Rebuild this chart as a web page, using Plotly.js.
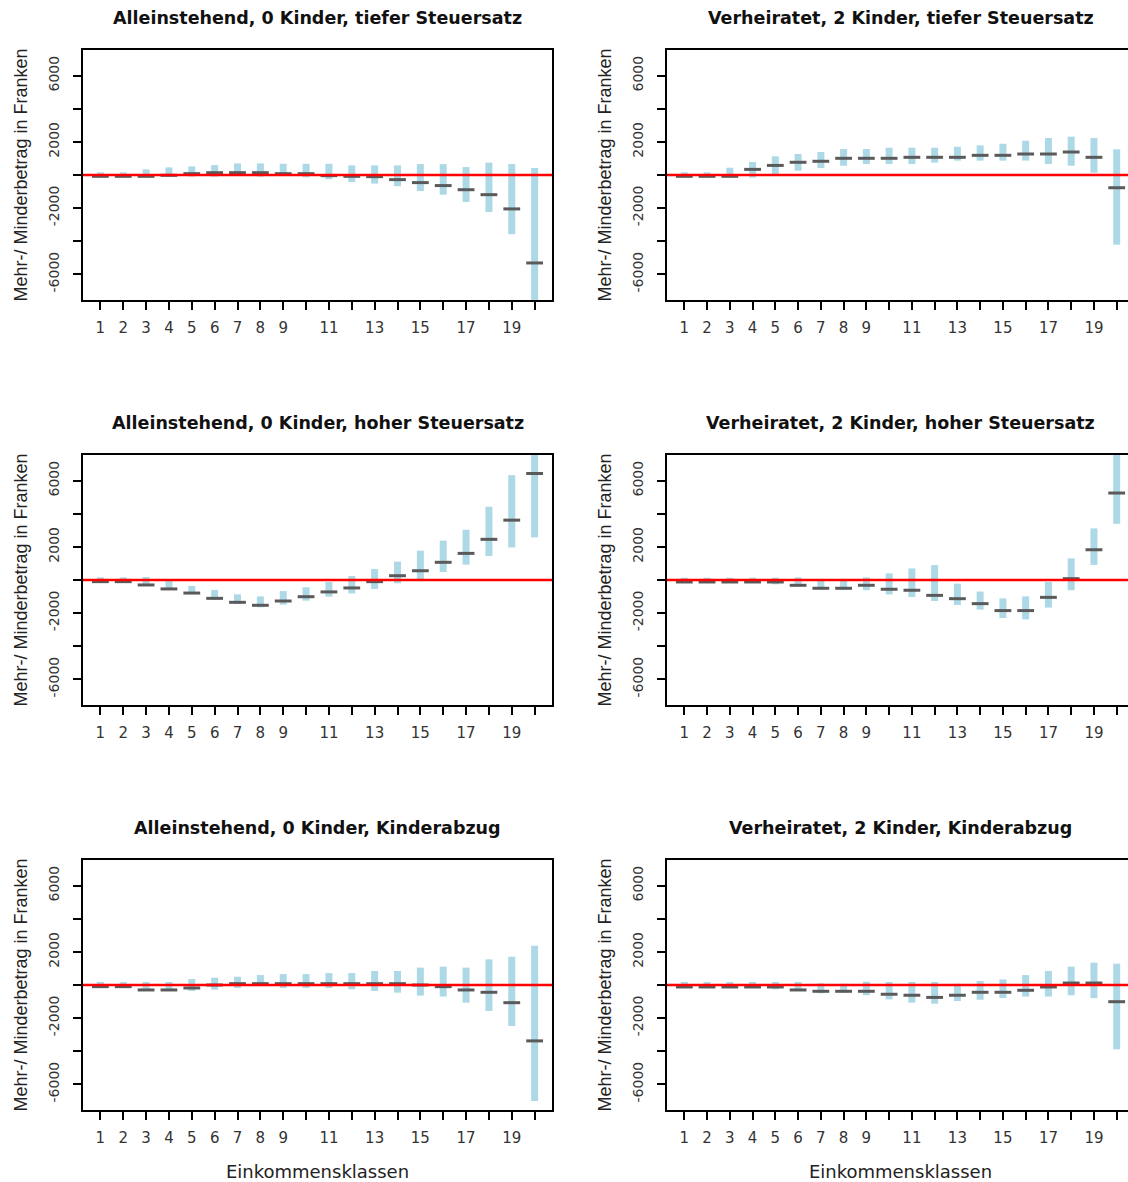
<!DOCTYPE html>
<html>
<head>
<meta charset="utf-8">
<script src="https://cdn.plot.ly/plotly-3.0.1.min.js"></script>
<style>
html,body{margin:0;padding:0;overflow:hidden;background:#fff;}
#chart{width:1136px;height:1182px;}
</style>
</head>
<body>
<div id="chart"></div>
<script>
const classes = [1,2,3,4,5,6,7,8,9,10,11,12,13,14,15,16,17,18,19,20];
const xTickText = ['1','2','3','4','5','6','7','8','9','','11','','13','','15','','17','','19',''];
const yTickVals = [-6000,-4000,-2000,0,2000,4000,6000];
const yTickText = ['-6000','','-2000','','2000','','6000'];

const panelTitles = [
  'Alleinstehend, 0 Kinder, tiefer Steuersatz',
  'Verheiratet, 2 Kinder, tiefer Steuersatz',
  'Alleinstehend, 0 Kinder, hoher Steuersatz',
  'Verheiratet, 2 Kinder, hoher Steuersatz',
  'Alleinstehend, 0 Kinder, Kinderabzug',
  'Verheiratet, 2 Kinder, Kinderabzug'
];
const yTitle = 'Mehr-/ Minderbetrag in Franken';
const xTitle = 'Einkommensklassen';

// Panel 1: Alleinstehend, tiefer Steuersatz
const p1Mid = [-80,-80,-80,-20,80,140,140,140,80,80,-40,-80,-100,-280,-460,-640,-890,-1190,-2050,-5320];
const p1Hi  = [160,160,340,460,520,600,700,700,680,680,680,580,580,580,660,660,480,750,660,420];
const p1Lo  = [-100,-100,-120,-100,-100,-100,-20,-100,-60,-140,-260,-420,-520,-680,-970,-1190,-1630,-2240,-3580,-8000];
// Panel 2: Verheiratet, tiefer Steuersatz
const p2Mid = [-80,-80,-80,340,580,770,830,1010,1010,1010,1070,1070,1070,1190,1190,1270,1270,1390,1070,-770];
const p2Hi  = [160,160,440,790,1130,1270,1390,1570,1570,1650,1650,1650,1710,1790,1890,2070,2240,2320,2240,1550];
const p2Lo  = [-100,-100,-120,-160,0,260,420,560,660,660,660,750,870,870,870,870,660,560,140,-4210];
// Panel 3: Alleinstehend, hoher Steuersatz
const p3Mid = [-100,-100,-300,-540,-790,-1110,-1350,-1530,-1270,-1010,-720,-480,-100,260,560,1070,1610,2460,3620,6440];
const p3Hi  = [160,160,180,-60,-360,-600,-870,-990,-670,-440,-120,240,660,1110,1770,2380,3040,4430,6340,8000];
const p3Lo  = [-120,-120,-320,-580,-850,-1190,-1450,-1650,-1490,-1250,-1010,-810,-540,-200,40,480,930,1450,1970,2580];
// Panel 4: Verheiratet, hoher Steuersatz
const p4Mid = [-120,-120,-120,-120,-120,-320,-500,-500,-320,-560,-620,-930,-1130,-1430,-1850,-1850,-1050,80,1830,5260];
const p4Hi  = [140,140,140,140,140,160,-20,-20,160,400,700,900,-220,-700,-1110,-990,-120,1310,3120,8000];
const p4Lo  = [-140,-140,-140,-140,-260,-400,-580,-600,-620,-870,-1030,-1270,-1510,-1790,-2300,-2380,-1670,-620,910,3400];
// Panel 5: Alleinstehend, Kinderabzug
const p5Mid = [-100,-100,-300,-300,-180,0,80,80,80,80,80,80,80,80,0,-100,-300,-440,-1070,-3380];
const p5Hi  = [180,180,180,180,360,440,500,600,660,660,720,720,850,850,1050,1110,1050,1550,1710,2380];
const p5Lo  = [-120,-120,-360,-360,-360,-280,-180,-60,-180,-180,-180,-260,-360,-460,-640,-700,-1070,-1570,-2480,-7010];
// Panel 6: Verheiratet, Kinderabzug
const p6Mid = [-120,-120,-120,-120,-120,-300,-380,-380,-380,-560,-620,-750,-620,-440,-440,-320,-120,120,120,-1010];
const p6Hi  = [180,180,180,180,180,180,100,80,200,180,180,180,80,240,340,600,850,1110,1350,1290];
const p6Lo  = [-140,-140,-140,-140,-260,-360,-500,-460,-620,-870,-1070,-1130,-970,-890,-790,-700,-700,-620,-790,-3890];

const panels = [
  {mid:p1Mid, hi:p1Hi, lo:p1Lo},
  {mid:p2Mid, hi:p2Hi, lo:p2Lo},
  {mid:p3Mid, hi:p3Hi, lo:p3Lo},
  {mid:p4Mid, hi:p4Hi, lo:p4Lo},
  {mid:p5Mid, hi:p5Hi, lo:p5Lo},
  {mid:p6Mid, hi:p6Hi, lo:p6Lo}
];

const W = 1136, H = 1182;
const colX = [[83,552],[667,1134]];
const rowY = [[50,300],[455,705],[860,1110]];
const titleY = [18,423,828];

const traces = [];
const layout = {
  width: W, height: H,
  margin: {l:0,r:0,t:0,b:0},
  paper_bgcolor: '#fff', plot_bgcolor: '#fff',
  showlegend: false,
  annotations: [], shapes: []
};

panels.forEach((p, i) => {
  const n = i + 1;
  const xa = n === 1 ? 'x' : 'x' + n;
  const ya = n === 1 ? 'y' : 'y' + n;
  const col = i % 2, row = Math.floor(i / 2);
  // range bars
  const bx = [], by = [];
  classes.forEach((c, k) => { bx.push(c, c, null); by.push(p.lo[k], p.hi[k], null); });
  traces.push({type:'scatter', mode:'lines', x:bx, y:by, xaxis:xa, yaxis:ya,
    line:{color:'#ADD8E6', width:7}, hoverinfo:'skip'});
  // median dashes
  traces.push({type:'scatter', mode:'markers', x:classes, y:p.mid, xaxis:xa, yaxis:ya,
    marker:{symbol:'line-ew', size:12, color:'#5a5a5a', line:{color:'#5a5a5a', width:3}}});
  const xd = [colX[col][0]/W, colX[col][1]/W];
  const yd = [(H-rowY[row][1])/H, (H-rowY[row][0])/H];
  const xKey = n === 1 ? 'xaxis' : 'xaxis' + n;
  const yKey = n === 1 ? 'yaxis' : 'yaxis' + n;
  layout[xKey] = {
    domain: xd, anchor: ya, range:[0.24, 20.76], autorange:false,
    tickmode:'array', tickvals: classes, ticktext: xTickText,
    ticks:'outside', ticklen:8, tickwidth:2, tickcolor:'#000',
    showline:true, mirror:true, linecolor:'#000', linewidth:2,
    showgrid:false, zeroline:false,
    tickfont:{family:'DejaVu Sans', size:15, color:'#333'},
    ticklabelstandoff: 5,
    title: row === 2 ? {text:xTitle, font:{family:'DejaVu Sans', size:18, color:'#222'}, standoff:22} : {text:''}
  };
  layout[yKey] = {
    domain: yd, anchor: xa, range:[-7560, 7560], autorange:false,
    tickmode:'array', tickvals: yTickVals, ticktext: yTickText, tickangle:-90,
    ticks:'outside', ticklen:8, tickwidth:2, tickcolor:'#000',
    showline:true, mirror:true, linecolor:'#000', linewidth:2,
    showgrid:false, zeroline:false,
    tickfont:{family:'DejaVu Sans', size:14, color:'#333'},
    ticklabelstandoff: 8,
    title: {text:yTitle, font:{family:'Liberation Sans', size:18, color:'#222'}, standoff:14}
  };
  layout.shapes.push({type:'line', xref: xa + ' domain', x0:0, x1:1, yref: ya, y0:0, y1:0,
    line:{color:'#ff0000', width:2.5}, layer:'above'});
  layout.annotations.push({
    text: '<b>' + panelTitles[i] + '</b>', showarrow:false,
    xref:'paper', yref:'paper', x:(xd[0]+xd[1])/2, y:(H-titleY[row])/H,
    xanchor:'center', yanchor:'middle',
    font:{family:'DejaVu Sans', size:17.5, color:'#111'}
  });
});

Plotly.newPlot('chart', traces, layout, {staticPlot:true, displayModeBar:false});
</script>
</body>
</html>
